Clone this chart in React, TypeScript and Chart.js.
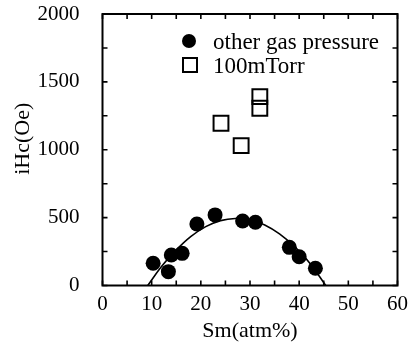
import React, { useEffect, useRef } from "react";
import { Chart, registerables } from "chart.js";

Chart.register(...registerables);

const otherGasX = [10.3, 13.4, 14.0, 16.2, 19.2, 22.9, 28.5, 31.1, 38.0, 40.0, 43.3];
const otherGasY = [164, 102, 225, 237, 453, 520, 475, 466, 281, 212, 127];

const torr100X = [24.1, 28.2, 32.0, 32.0];
const torr100Y = [1195, 1030, 1391, 1306];

const fitX = [9.2, 12, 15, 18, 21, 24, 27, 30, 33, 36, 39, 42, 45.4];
const fitY = [0, 140, 262, 362, 434, 478, 494, 484, 446, 380, 288, 172, 0];

const xTitle = "Sm(atm%)";
const yTitle = "iHc(Oe)";
const legendLabels = ["other gas pressure", "100mTorr"];

const FONT = "'Liberation Serif', 'Times New Roman', serif";

const framePlugin = {
  id: "frameTicks",
  afterDraw(chart: any) {
    const { ctx, chartArea } = chart;
    const { left, right, top, bottom } = chartArea;
    const xs = chart.scales.x;
    const ys = chart.scales.y;
    ctx.save();
    ctx.strokeStyle = "#000";
    ctx.lineWidth = 1.6;
    const tl = 5;
    ctx.beginPath();
    xs.ticks.forEach((t: any) => {
      const px = xs.getPixelForValue(t.value);
      ctx.moveTo(px, bottom);
      ctx.lineTo(px, bottom - tl);
      ctx.moveTo(px, top);
      ctx.lineTo(px, top + tl);
    });
    ys.ticks.forEach((t: any) => {
      const py = ys.getPixelForValue(t.value);
      ctx.moveTo(left, py);
      ctx.lineTo(left + tl, py);
      ctx.moveTo(right, py);
      ctx.lineTo(right - tl, py);
    });
    ctx.stroke();
    ctx.lineWidth = 2;
    ctx.strokeRect(left, top, right - left, bottom - top);

    // legend
    ctx.fillStyle = "#000";
    ctx.beginPath();
    ctx.arc(189, 41, 7, 0, Math.PI * 2);
    ctx.fill();
    ctx.lineWidth = 2;
    ctx.strokeRect(183, 58, 14, 14);
    ctx.font = "23px " + FONT;
    ctx.textBaseline = "middle";
    ctx.textAlign = "left";
    ctx.fillText(legendLabels[0], 213, 43);
    ctx.fillText(legendLabels[1], 213, 67);
    ctx.restore();
  },
};

export default function App() {
  const ref = useRef<HTMLCanvasElement | null>(null);
  useEffect(() => {
    if (!ref.current) return;
    const chart = new Chart(ref.current, {
      type: "scatter",
      data: {
        datasets: [
          {
            label: "fit",
            data: fitX.map((x, i) => ({ x, y: fitY[i] })),
            showLine: true,
            borderColor: "#000",
            borderWidth: 1.6,
            pointRadius: 0,
            tension: 0.4,
            fill: false,
          },
          {
            label: legendLabels[0],
            data: otherGasX.map((x, i) => ({ x, y: otherGasY[i] })),
            pointStyle: "circle",
            pointRadius: 7.5,
            backgroundColor: "#000",
            borderColor: "#000",
            borderWidth: 0,
          },
          {
            label: legendLabels[1],
            data: torr100X.map((x, i) => ({ x, y: torr100Y[i] })),
            pointStyle: "rect",
            pointRadius: 10.5,
            backgroundColor: "rgba(255,255,255,0)",
            borderColor: "#000",
            borderWidth: 2,
          },
        ],
      },
      options: {
        animation: false,
        responsive: true,
        maintainAspectRatio: false,
        layout: { padding: { top: 14, right: 8.5, left: 0, bottom: 0 } },
        plugins: {
          legend: { display: false },
          tooltip: { enabled: false },
        },
        scales: {
          x: {
            type: "linear",
            min: 0,
            max: 60,
            grid: { display: false },
            border: { display: false },
            ticks: {
              stepSize: 5,
              autoSkip: false,
              maxRotation: 0,
              padding: -2,
              color: "#000",
              font: { family: FONT, size: 21 },
              callback: (v: any) => (Number(v) % 10 === 0 ? String(v) : ""),
            },
            title: {
              display: true,
              text: xTitle,
              color: "#000",
              font: { family: FONT, size: 22 },
              padding: { top: 0, bottom: 1 },
            },
            afterFit: (s: any) => {
              s.height = 59.5;
              s.paddingLeft = 0;
              s.paddingRight = 0;
            },
          },
          y: {
            type: "linear",
            min: 0,
            max: 2000,
            grid: { display: false },
            border: { display: false },
            ticks: {
              stepSize: 250,
              autoSkip: false,
              padding: 15,
              color: "#000",
              font: { family: FONT, size: 21 },
              callback: (v: any) => (Number(v) % 500 === 0 ? String(v) : ""),
            },
            title: {
              display: true,
              text: "    " + yTitle,
              color: "#000",
              font: { family: FONT, size: 22 },
              padding: { top: 10, bottom: 0 },
            },
            afterFit: (s: any) => {
              s.width = 102.5;
              s.paddingTop = 0;
              s.paddingBottom = 0;
            },
          },
        },
      },
      plugins: [framePlugin],
    });
    return () => chart.destroy();
  }, []);
  return (
    <div style={{ position: "absolute", left: 0, top: 0, width: 410, height: 345, background: "#fff" }}>
      <canvas ref={ref} />
    </div>
  );
}
